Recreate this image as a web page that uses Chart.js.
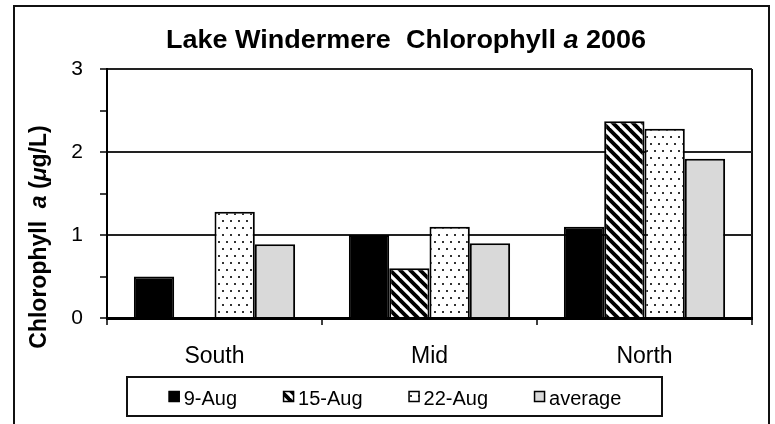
<!DOCTYPE html>
<html>
<head>
<meta charset="utf-8">
<script src="https://cdn.jsdelivr.net/npm/chart.js@4.4.1/dist/chart.umd.min.js"></script>
<style>
  html, body { margin: 0; padding: 0; background: #fff; }
  canvas { display: block; }
</style>
</head>
<body>
<canvas id="chart" width="775" height="424"></canvas>
<script>
// data
const sites = ['South', 'Mid', 'North'];
const seriesNames = ['9-Aug', '15-Aug', '22-Aug', 'average'];
const aug9 = [0.5, 1.0, 1.1];
const aug15 = [null, 0.6, 2.37];
const aug22 = [1.28, 1.1, 2.28];
const average = [0.89, 0.9, 1.92];
const yMin = 0, yMax = 3, yStep = 0.5;

const FONT = '"Liberation Sans", Arial, sans-serif';

// fill patterns
function stripes() {
  const c = document.createElement('canvas');
  c.width = c.height = 10;
  const g = c.getContext('2d');
  g.fillStyle = '#fff'; g.fillRect(0, 0, 10, 10);
  g.strokeStyle = '#000'; g.lineWidth = 3.8;
  for (const k of [-10, 0, 10]) {
    g.beginPath(); g.moveTo(-2, k - 2); g.lineTo(12, k + 12); g.stroke();
  }
  return g.createPattern(c, 'repeat');
}
function dots() {
  const c = document.createElement('canvas');
  c.width = 8; c.height = 14;
  const g = c.getContext('2d');
  g.fillStyle = '#fff'; g.fillRect(0, 0, 8, 14);
  g.fillStyle = '#333';
  g.fillRect(2, 3, 2, 2);
  g.fillRect(6, 10, 2, 2);
  return g.createPattern(c, 'repeat');
}
const ctx0 = document.getElementById('chart').getContext('2d');
const fills = ['#000', stripes(), dots(), '#d9d9d9'];

// frame, title, y title and boxed legend
const decor = {
  id: 'decor',
  beforeDraw(chart) {
    const c = chart.ctx;
    c.save();
    c.fillStyle = '#fff'; c.fillRect(0, 0, chart.width, chart.height);
    c.strokeStyle = '#111'; c.lineWidth = 2;
    c.strokeRect(14, 6, 755, 440);
    c.restore();
  },
  afterDraw(chart) {
    const c = chart.ctx;
    c.save();
    c.fillStyle = '#000';
    c.textBaseline = 'alphabetic';

    // title with italic "a" (slightly wide, like the original)
    c.save();
    c.translate(406, 48);
    c.scale(1.08, 1);
    drawRuns(c, [
      ['bold 25px ' + FONT, 'Lake Windermere  Chlorophyll '],
      ['italic bold 25px ' + FONT, 'a'],
      ['bold 25px ' + FONT, ' 2006']
    ], 0, 0);
    c.restore();

    // y axis title
    c.save();
    c.translate(46, 237);
    c.rotate(-Math.PI / 2);
    drawRuns(c, [
      ['bold 23px ' + FONT, 'Chlorophyll  '],
      ['italic bold 23px ' + FONT, 'a'],
      ['bold 23px ' + FONT, ' ('],
      ['italic bold 23px ' + FONT, '\u03bc'],
      ['bold 23px ' + FONT, 'g/L)']
    ], 0, 0);
    c.restore();

    // legend
    c.font = '20px ' + FONT;
    const box = 11, gap = 4, space = 46;
    let total = 0;
    const widths = seriesNames.map(n => c.measureText(n).width);
    widths.forEach((w, i) => { total += box + gap + w + (i ? space : 0); });
    let x = 395 - total / 2;
    const top = 377, bottom = 416;
    c.strokeStyle = '#111'; c.lineWidth = 2;
    c.strokeRect(127, top, 535, bottom - top);
    seriesNames.forEach((n, i) => {
      const ds = chart.data.datasets[i];
      c.fillStyle = ds.backgroundColor;
      c.fillRect(x, 391, box, box);
      c.strokeStyle = '#000'; c.lineWidth = 1.5;
      c.strokeRect(x + 0.5, 391.5, box - 1, box - 1);
      c.fillStyle = '#000';
      c.textAlign = 'left';
      c.fillText(n, x + box + gap, 405);
      x += box + gap + widths[i] + space;
    });
    c.restore();
  }
};

function drawRuns(c, runs, cx, y) {
  let w = 0;
  runs.forEach(r => { c.font = r[0]; w += c.measureText(r[1]).width; });
  let x = cx - w / 2;
  c.textAlign = 'left';
  runs.forEach(r => { c.font = r[0]; c.fillText(r[1], x, y); x += c.measureText(r[1]).width; });
}

const seriesData = [aug9, aug15, aug22, average];

new Chart(ctx0, {
  type: 'bar',
  data: {
    labels: sites,
    datasets: seriesNames.map((n, i) => ({
      label: n,
      data: seriesData[i],
      backgroundColor: fills[i],
      borderColor: '#000',
      borderWidth: 2,
      categoryPercentage: 0.75,
      barPercentage: 1.0
    }))
  },
  options: {
    responsive: false,
    animation: false,
    devicePixelRatio: 1,
    layout: { padding: { top: 69, right: 23, bottom: 56, left: 0 } },
    plugins: { legend: { display: false }, title: { display: false }, tooltip: { enabled: false } },
    scales: {
      x: {
        afterFit: s => { s.height = 50; },
        grid: {
          offset: true,
          drawOnChartArea: true,
          color: c => c.tick ? 'rgba(0,0,0,0)' : '#111',
          lineWidth: 2,
          tickColor: '#000',
          tickLength: 7,
          tickWidth: 1.5
        },
        border: { color: '#000', width: 3 },
        ticks: { color: '#000', font: { family: FONT, size: 23 }, padding: 18 }
      },
      y: {
        min: yMin, max: yMax,
        afterFit: s => { s.width = 107; },
        grid: {
          color: c => Number.isInteger(c.tick.value) ? '#222' : 'rgba(0,0,0,0)',
          lineWidth: 2,
          tickColor: '#000',
          tickLength: 7,
          tickWidth: 1.5
        },
        border: { color: '#000', width: 2 },
        ticks: {
          stepSize: yStep,
          color: '#000',
          font: { family: FONT, size: 21 },
          padding: 17,
          callback: v => Number.isInteger(v) ? String(v) : ''
        }
      }
    }
  },
  plugins: [decor]
});
</script>
</body>
</html>
